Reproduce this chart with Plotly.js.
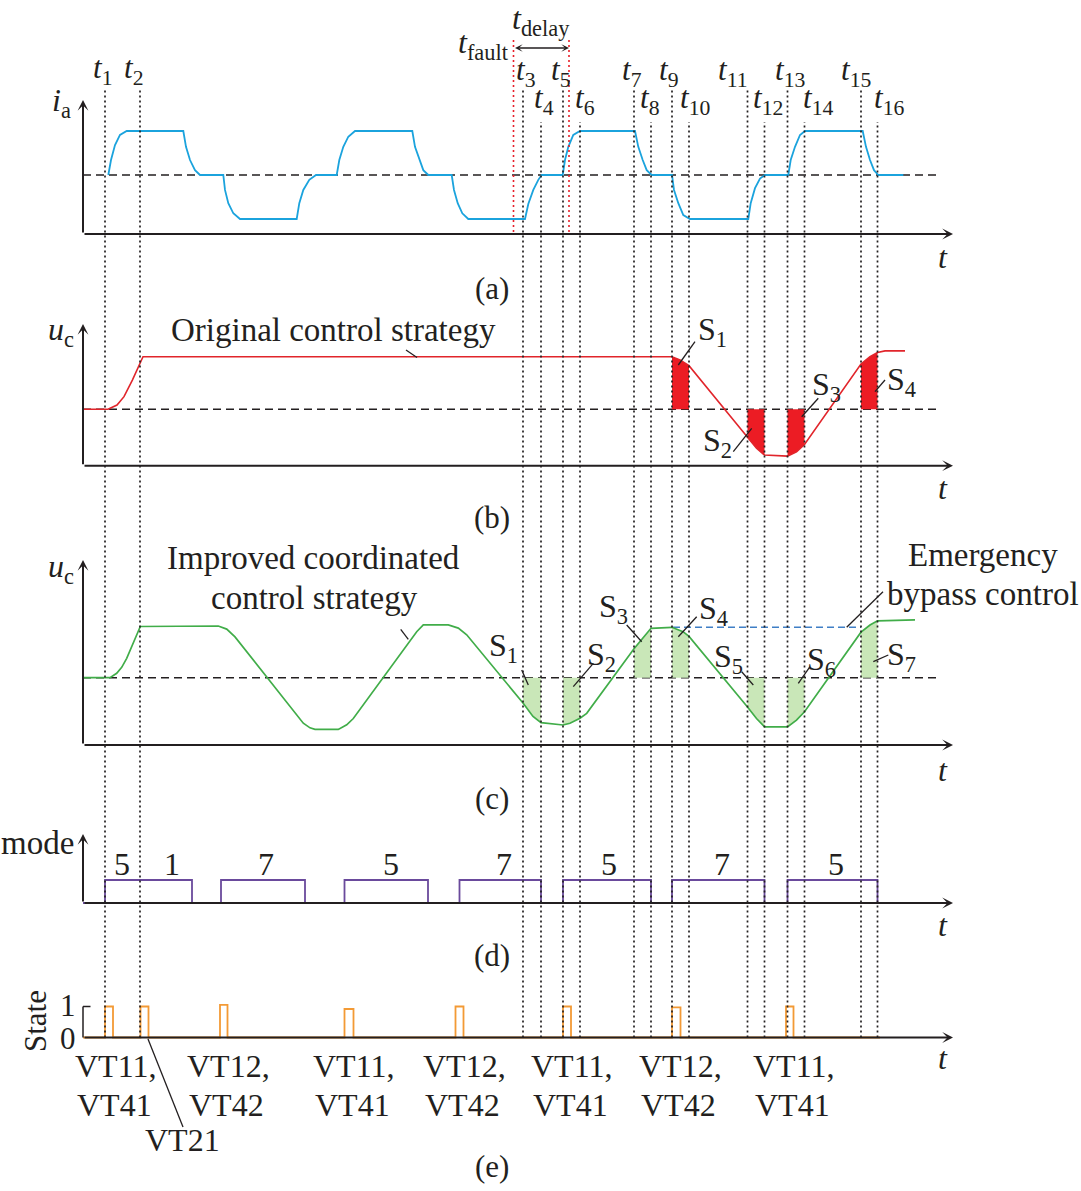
<!DOCTYPE html>
<html><head><meta charset="utf-8">
<script src="https://cdn.plot.ly/plotly-3.0.1.min.js"></script>
<style>html,body{margin:0;padding:0;background:#fff}</style>
</head><body><div id="chart" style="width:1081px;height:1191px"></div>
<script>
// ================= DATA (time in arbitrary units) =================
const tNames  = ['1','2','3','4','5','6','7','8','9','10','11','12','13','14','15','16'];
const tValues = [22, 57, 440, 458, 480, 497, 551, 568, 589, 606, 664.5, 681.5, 704.5, 721.5, 778, 794.5];
const tFault = 430.5;
const tDelayEnd = 486;

// (a) phase current i_a (normalised)
const iaT = [25.3,28,32,37,43.7, 100.3,103,107,112,117, 140.3,142,145.3,150.3,157, 213.7,216.3,220.3,226.3,233,
             253.7,256.3,260.3,265.3,272, 329.3,332,336.3,340.3,345.3, 368.7,371,374.7,379.3,385.3,
             442,445.3,450.3,455.3,458.7, 479.7,482,485.3,490.3,497, 552,555.3,559.7,563.7,568.7,
             589,591,595.3,600.3,607, 665.3,667.7,672,677,682, 705.3,707.7,712,717,722,
             779.7,783,787,791,795.3, 820.3];
const iaV = [0,0.34,0.68,0.91,1, 1,0.64,0.34,0.11,0, 0,-0.34,-0.64,-0.87,-1, -1,-0.64,-0.34,-0.11,0,
             0,0.34,0.64,0.87,1, 1,0.64,0.34,0.11,0, 0,-0.34,-0.64,-0.87,-1,
             -1,-0.66,-0.34,-0.11,0, 0,0.34,0.64,0.91,1, 1,0.64,0.34,0.11,0,
             0,-0.34,-0.64,-0.91,-1, -1,-0.64,-0.3,-0.08,0, 0,0.34,0.64,0.91,1,
             1,0.64,0.34,0.11,0, 0];

// (b) capacitor voltage, original control strategy
const ucOrigT = [0,25,34,41,49.5,60,589,597,606,664.5,673.5,681.5,704.5,713.5,721.5,778,787,794.5,802,822];
const ucOrigV = [0,0,0.08,0.24,0.56,1,1,0.94,0.83,-0.54,-0.74,-0.87,-0.89,-0.81,-0.67,0.86,1.0,1.08,1.11,1.11];
const origAreaIdx = [[9,10],[11,12],[13,14],[15,16]];   // S1..S4 between t_i and t_j

// (c) capacitor voltage, improved coordinated control strategy
const ucImpT = [0,27,33.7,38.7,43.7,50.3,57.3,135.3,143.7,152,220.3,227,232,255.3,263.7,270.3,333.7,340.3,365.3,375.3,383.7,
                440,450,458,480,487,497,503.7,551,568,589,600,606,664.5,673.5,681.5,704.5,713.5,721.5,778,787,794.5,832];
const ucImpV = [0,0,0.085,0.2,0.375,0.665,0.99,1.0,0.94,0.79,-0.88,-0.97,-1.0,-1.0,-0.91,-0.79,0.89,1.02,1.02,0.96,0.83,
                -0.49,-0.75,-0.87,-0.915,-0.88,-0.785,-0.69,0.56,0.955,0.975,0.89,0.8,-0.565,-0.79,-0.95,-0.95,-0.82,-0.66,0.88,1.02,1.1,1.12];
const impAreaIdx = [[3,4],[5,6],[7,8],[9,10],[11,12],[13,14],[15,16]]; // S1..S7
const bypassT = [590, 778];
const bypassV = [0.975, 0.975];

// (d) operating mode
const modeStart = [22, 138, 261.5, 376.5, 480, 589, 704.5];
const modeEnd   = [109, 222, 345, 458, 568, 681.5, 794.5];
const modeLabels = ['5','1','7','5','7','5','7','5'];
const modeLabelT = [38.5, 88.5, 183, 308, 421, 526, 639, 753];

// (e) switch state
const pulseStart = [22, 57.5, 137, 261.5, 372.5, 480, 589, 703];
const pulseEnd   = [30, 65.5, 144.5, 270.5, 380.5, 488, 597.5, 710.5];
const pulseLevel = [1, 1, 1.05, 0.92, 1, 1, 0.97, 1];
const stateEndT = 797;
const vtTop    = ['VT11,','VT12,','VT11,','VT12,','VT11,','VT12,','VT11,'];
const vtBottom = ['VT41','VT42','VT41','VT42','VT41','VT42','VT41'];
const vtExtra = 'VT21';

// ================= LAYOUT CONSTANTS (pixels) =================
const W = 1081, H = 1191, X0 = 83;
const PX = x => x / W, PY = y => 1 - y / H;
const TX = px => px - X0;
const FONT = 'Liberation Serif', INK = '#231f20';
const F = s => ({family:FONT, size:s, color:INK});
const panels = {
  a: {id:'y',  top:30,  bot:240,  zero:175,    unit:44,   axis:234,    arrowTop:100},
  b: {id:'y2', top:300, bot:475,  zero:409.3,  unit:52.6, axis:465.7,  arrowTop:324},
  c: {id:'y3', top:540, bot:755,  zero:677.7,  unit:51.7, axis:745,    arrowTop:560},
  d: {id:'y4', top:820, bot:910,  zero:903,    unit:23,   axis:903,    arrowTop:834},
  e: {id:'y5', top:990, bot:1045, zero:1037.5, unit:31,   axis:1037.5, arrowTop:null}
};
const lv = (p, py) => (p.zero - py) / p.unit;
function yax(p){ return {domain:[1-p.bot/H, 1-p.top/H], range:[lv(p,p.bot), lv(p,p.top)], visible:false, fixedrange:true}; }

const tLabelLeft = [92,123,515,532.5,550,574,620.7,639.3,658,679,717,751.7,774,802,840,872.7];
const xArrowEnd = 953, zeroDashEnd = 940, vLineBottom = 1037.5;

// ================= TRACES =================
const traces = [];
const dashZero = {color:INK, width:1.5, dash:'8px,5px'};
['a','b','c'].forEach(k => {
  traces.push({x:[0, TX(zeroDashEnd)], y:[0,0], yaxis:panels[k].id, mode:'lines', line:dashZero, hoverinfo:'skip'});
});
function area(T, V, ta, tb){
  const xs=[], ys=[];
  for (let i=0;i<T.length;i++) if (T[i]>=ta-1e-9 && T[i]<=tb+1e-9){xs.push(T[i]); ys.push(V[i]);}
  xs.push(tb, ta); ys.push(0, 0);
  return {xs, ys};
}
origAreaIdx.forEach(([i,j]) => {
  const a = area(ucOrigT, ucOrigV, tValues[i-1], tValues[j-1]);
  traces.push({x:a.xs, y:a.ys, yaxis:'y2', mode:'lines', fill:'toself', fillcolor:'#ec1c24', line:{width:0, color:'#ec1c24'}, hoverinfo:'skip'});
});
impAreaIdx.forEach(([i,j]) => {
  const a = area(ucImpT, ucImpV, tValues[i-1], tValues[j-1]);
  traces.push({x:a.xs, y:a.ys, yaxis:'y3', mode:'lines', fill:'toself', fillcolor:'#c9e7b8', line:{width:0, color:'#c9e7b8'}, hoverinfo:'skip'});
});
traces.push({x:iaT, y:iaV, yaxis:'y', mode:'lines', line:{color:'#1ba3dd', width:1.8}});
traces.push({x:ucOrigT, y:ucOrigV, yaxis:'y2', mode:'lines', line:{color:'#e1252b', width:1.6}});
traces.push({x:bypassT, y:bypassV, yaxis:'y3', mode:'lines', line:{color:'#3f7fc6', width:1.5, dash:'7px,4px'}});
traces.push({x:ucImpT, y:ucImpV, yaxis:'y3', mode:'lines', line:{color:'#41ad49', width:1.7}});
// mode step line
(function(){
  const xs=[0], ys=[0];
  modeStart.forEach((s,i)=>{ xs.push(s,s,modeEnd[i],modeEnd[i]); ys.push(0,1,1,0); });
  traces.push({x:xs, y:ys, yaxis:'y4', mode:'lines', line:{color:'#6a4a9c', width:1.8}});
})();
// state step line
(function(){
  const xs=[0], ys=[0];
  pulseStart.forEach((s,i)=>{ xs.push(s,s,pulseEnd[i],pulseEnd[i]); ys.push(0,pulseLevel[i],pulseLevel[i],0); });
  xs.push(stateEndT); ys.push(0);
  traces.push({x:xs, y:ys, yaxis:'y5', mode:'lines', line:{color:'#f39a35', width:1.8}});
})();

// ================= SHAPES =================
const shapes = [];
tValues.forEach((t,i) => {
  const top = i < 2 ? 88 : (i % 2 === 0 ? 90 : 122);
  shapes.push({type:'line', xref:'x', yref:'paper', x0:t, x1:t, y0:PY(vLineBottom), y1:PY(top),
               line:{color:INK, width:1.7, dash:'2px,3px'}, layer:'above'});
});
[tFault, tDelayEnd].forEach(t => shapes.push({type:'line', xref:'x', yref:'paper', x0:t, x1:t, y0:PY(232), y1:PY(40),
               line:{color:'#e8202a', width:1.6, dash:'2px,3px'}, layer:'above'}));
// (e) short y axis with top tick
shapes.push({type:'line', xref:'x', yref:'y5', x0:0, x1:0, y0:0, y1:1, line:{color:INK, width:1.5}});
shapes.push({type:'line', xref:'x', yref:'y5', x0:0, x1:7.5, y0:1, y1:1, line:{color:INK, width:1.5}});
// leader lines (pixel endpoints)
const leaders = [
  [406,350,417,357.5],
  [695,341.7,678.3,365],[733.3,451.7,751.7,428.3],[818.3,398.3,801.7,416.7],[885,380,875,391.7],
  [400.7,629.3,408.3,639.3],[846.7,627.3,883,591.7],
  [521.7,670,528.3,685],[593.3,663.3,573.3,686.7],[626.7,625,641.7,641.7],[696.7,616.7,678.3,636.7],
  [741.7,671.7,753.3,685],[810,666.7,798.3,683.3],[888.3,655,873.3,661.7],
  [148,1039,183,1127]
];
leaders.forEach(l => shapes.push({type:'line', xref:'paper', yref:'paper', x0:PX(l[0]), y0:PY(l[1]), x1:PX(l[2]), y1:PY(l[3]), line:{color:INK, width:1.3}}));

// ================= ANNOTATIONS =================
const ann = [];
function txt(px, py, text, size, o){ ann.push(Object.assign({xref:'paper', yref:'paper', x:PX(px), y:PY(py), text, showarrow:false, font:F(size), xanchor:'center', yanchor:'middle', borderpad:0}, o||{})); }
// axes with arrows
Object.keys(panels).forEach(k => {
  const p = panels[k], ya = lv(p, p.axis);
  ann.push({xref:'x', yref:p.id, axref:'x', ayref:p.id, x:TX(xArrowEnd), y:ya, ax:0, ay:ya, text:'', showarrow:true,
            arrowhead:3, arrowsize:0.9, arrowwidth:2, arrowcolor:INK, standoff:0, startstandoff:0});
  if (p.arrowTop) ann.push({xref:'x', yref:p.id, axref:'x', ayref:p.id, x:0, y:lv(p,p.arrowTop), ax:0, ay:ya, text:'', showarrow:true,
            arrowhead:3, arrowsize:0.9, arrowwidth:2, arrowcolor:INK, standoff:0, startstandoff:0});
});
// t_delay double arrow
ann.push({xref:'x', yref:'y', axref:'x', ayref:'y', x:tDelayEnd, y:lv(panels.a,48), ax:tFault, ay:lv(panels.a,48), text:'', showarrow:true,
          arrowhead:3, startarrowhead:3, arrowside:'end+start', arrowsize:0.8, startarrowsize:0.8, arrowwidth:1.6, arrowcolor:INK, standoff:0, startstandoff:0});
// time labels
tNames.forEach((n,i) => {
  const y = i < 2 ? 70 : (i % 2 === 0 ? 72 : 100);
  txt(tLabelLeft[i], y, '<i>t</i><sub>'+n+'</sub>', 31, {xanchor:'left'});
});
txt(510, 45, '<i>t</i><sub>fault</sub>', 32, {xanchor:'right'});
txt(541, 21, '<i>t</i><sub>delay</sub>', 32);
// axis names
txt(61, 103, '<i>i</i><sub>a</sub>', 32);
txt(61, 332, '<i>u</i><sub>c</sub>', 32);
txt(61, 568, '<i>u</i><sub>c</sub>', 32);
txt(75, 843, 'mode', 33, {xanchor:'right'});
txt(35, 1021, 'State', 31, {textangle:-90});
txt(77, 1006, '1', 31, {xanchor:'right'});
txt(77, 1038, '0', 31, {xanchor:'right'});
[257, 488, 770, 925, 1058].forEach(y => txt(943, y, '<i>t</i>', 32));
[['(a)',288],['(b)',517],['(c)',798],['(d)',955],['(e)',1166]].forEach(([s,y]) => txt(492, y, s, 31));
// panel texts
txt(333, 330, 'Original control strategy', 33);
txt(313, 558, 'Improved coordinated', 33);
txt(314, 598, 'control strategy', 33);
txt(983, 555, 'Emergency', 33);
txt(983, 594, 'bypass control', 33);
[[712,332],[718,442],[826,386],[901,382]].forEach((p,i) => txt(p[0], p[1], 'S<sub>'+(i+1)+'</sub>', 32));
[[503,647],[601,656],[613,608],[713,610],[728,658],[821,661],[901,657]].forEach((p,i) => txt(p[0], p[1], 'S<sub>'+(i+1)+'</sub>', 32));
// mode labels
modeLabels.forEach((s,i) => ann.push({xref:'x', yref:'paper', x:modeLabelT[i], y:PY(864), text:s, showarrow:false, font:F(32), xanchor:'center', yanchor:'middle'}));
// VT labels
const vtLeft = [74, 186, 311.6, 421.8, 530, 638, 751.7];
vtTop.forEach((s,i) => {
  txt(vtLeft[i], 1066, s, 32, {xanchor:'left'});
  txt(vtLeft[i] + 2, 1105, vtBottom[i], 32, {xanchor:'left'});
});
txt(182, 1140, vtExtra, 32);

const layout = {
  width:W, height:H, margin:{l:0,r:0,t:0,b:0}, paper_bgcolor:'#fff', plot_bgcolor:'rgba(0,0,0,0)', showlegend:false,
  xaxis:{domain:[0,1], range:[-X0, W-X0], visible:false, fixedrange:true},
  yaxis:yax(panels.a), yaxis2:yax(panels.b), yaxis3:yax(panels.c), yaxis4:yax(panels.d), yaxis5:yax(panels.e),
  shapes, annotations:ann, font:{family:FONT, color:INK}
};
Plotly.newPlot('chart', traces, layout, {staticPlot:true, displayModeBar:false});
</script></body></html>
